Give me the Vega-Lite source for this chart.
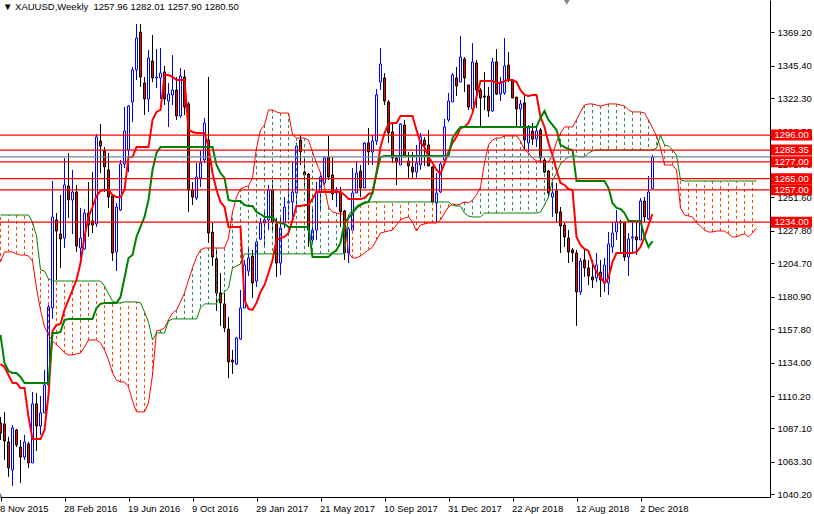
{"$schema":"https://vega.github.io/schema/vega-lite/v6.json","width":770,"height":497,"autosize":"none","padding":{"left":0,"top":0,"right":44,"bottom":17},"background":"white","view":{"stroke":null},
"title":{"text":"▼ XAUUSD,Weekly\u00a0\u00a01257.96 1282.01 1257.90 1280.50","anchor":"start","frame":"group","offset":-12,"dx":3,"font":"Liberation Sans","fontSize":9.5,"fontWeight":"normal","color":"#000"},
"config":{"font":"Liberation Sans","axis":{"labelOverlap":false,"labelFlush":false,"labelBound":false,"grid":false,"labelFontSize":9.5,"labelColor":"#000","domainColor":"#000","tickColor":"#000","tickSize":4,"title":null}},
"data":{"values":[
{"n":0,"date":"2015-11-08","open":1091,"high":1095.3,"low":1078.9,"close":1083.9,"tenkan":1133,"kijun":1153.7,"spanA":1205.7,"spanB":1239.1},
{"n":1,"date":"2015-11-15","open":1090.3,"high":1098.9,"low":1064.7,"close":1078.2,"tenkan":1130.9,"kijun":1133.7,"spanA":1212.8,"spanB":1239.1},
{"n":2,"date":"2015-11-22","open":1077.5,"high":1081.1,"low":1052.6,"close":1059,"tenkan":1125.2,"kijun":1128,"spanA":1212.8,"spanB":1239.1},
{"n":3,"date":"2015-11-29","open":1057.6,"high":1089.6,"low":1046.2,"close":1087.5,"tenkan":1119.5,"kijun":1126.6,"spanA":1212.8,"spanB":1239.1},
{"n":4,"date":"2015-12-06","open":1086,"high":1086.8,"low":1073.9,"close":1075.4,"tenkan":1119.5,"kijun":1126.6,"spanA":1211.4,"spanB":1239.1},
{"n":5,"date":"2015-12-13","open":1073.9,"high":1078.9,"low":1048.3,"close":1066.8,"tenkan":1116,"kijun":1123.8,"spanA":1210.6,"spanB":1239.1},
{"n":6,"date":"2015-12-20","open":1066.8,"high":1082.5,"low":1064.7,"close":1077.5,"tenkan":1116,"kijun":1119.5,"spanA":1210.6,"spanB":1239.1},
{"n":7,"date":"2015-12-27","open":1076.1,"high":1077.5,"low":1059,"close":1062.5,"tenkan":1095.3,"kijun":1119.5,"spanA":1209.9,"spanB":1239.1},
{"n":8,"date":"2016-01-03","open":1062.5,"high":1113.1,"low":1062.5,"close":1104.6,"tenkan":1079.6,"kijun":1119.5,"spanA":1206.4,"spanB":1234.1},
{"n":9,"date":"2016-01-10","open":1104.6,"high":1112.4,"low":1071.1,"close":1088.9,"tenkan":1079.6,"kijun":1119.5,"spanA":1187.1,"spanB":1224.2},
{"n":10,"date":"2016-01-17","open":1088.9,"high":1110.2,"low":1082.5,"close":1098.1,"tenkan":1079.6,"kijun":1119.5,"spanA":1171.5,"spanB":1200},
{"n":11,"date":"2016-01-24","open":1098.1,"high":1128.8,"low":1098.1,"close":1118.1,"tenkan":1086,"kijun":1119.5,"spanA":1159.4,"spanB":1199.2},
{"n":12,"date":"2016-01-31","open":1118.1,"high":1175,"low":1116.7,"close":1173.6,"tenkan":1111,"kijun":1119.5,"spanA":1153.7,"spanB":1193.6},
{"n":13,"date":"2016-02-07","open":1172.9,"high":1263.3,"low":1165.1,"close":1237.7,"tenkan":1156.5,"kijun":1155.1,"spanA":1149.4,"spanB":1192.1},
{"n":14,"date":"2016-02-14","open":1235.6,"high":1240.5,"low":1192.8,"close":1227.7,"tenkan":1160.8,"kijun":1155.1,"spanA":1146.6,"spanB":1192.1},
{"n":15,"date":"2016-02-21","open":1225.6,"high":1253.4,"low":1201.4,"close":1222,"tenkan":1161.5,"kijun":1155.8,"spanA":1144.4,"spanB":1192.1},
{"n":16,"date":"2016-02-28","open":1222.7,"high":1279.7,"low":1215.6,"close":1260.5,"tenkan":1171.5,"kijun":1164.4,"spanA":1140.9,"spanB":1192.1},
{"n":17,"date":"2016-03-06","open":1259.8,"high":1283.3,"low":1237,"close":1249.8,"tenkan":1178.6,"kijun":1165.1,"spanA":1139.4,"spanB":1192.1},
{"n":18,"date":"2016-03-13","open":1249.8,"high":1271.2,"low":1225.6,"close":1255.5,"tenkan":1185.7,"kijun":1165.1,"spanA":1139.4,"spanB":1192.1},
{"n":19,"date":"2016-03-20","open":1255.5,"high":1260.5,"low":1212.8,"close":1217,"tenkan":1192.8,"kijun":1165.1,"spanA":1140.2,"spanB":1192.1},
{"n":20,"date":"2016-03-27","open":1215.6,"high":1244.1,"low":1208.5,"close":1222.7,"tenkan":1204.9,"kijun":1165.1,"spanA":1140.9,"spanB":1192.1},
{"n":21,"date":"2016-04-03","open":1214.9,"high":1243.4,"low":1214.2,"close":1240.5,"tenkan":1223.5,"kijun":1165.1,"spanA":1145.1,"spanB":1192.1},
{"n":22,"date":"2016-04-10","open":1240.5,"high":1262.6,"low":1223.5,"close":1232,"tenkan":1237.7,"kijun":1165.1,"spanA":1150.1,"spanB":1192.1},
{"n":23,"date":"2016-04-17","open":1234.9,"high":1269.7,"low":1226.3,"close":1232,"tenkan":1244.8,"kijun":1165.1,"spanA":1150.1,"spanB":1192.1},
{"n":24,"date":"2016-04-24","open":1232.7,"high":1296.8,"low":1230.6,"close":1294.7,"tenkan":1252.6,"kijun":1172.9,"spanA":1150.1,"spanB":1192.1},
{"n":25,"date":"2016-05-01","open":1291.8,"high":1303.9,"low":1269,"close":1288.2,"tenkan":1256.2,"kijun":1175.8,"spanA":1148,"spanB":1192.1},
{"n":26,"date":"2016-05-08","open":1284.7,"high":1287.5,"low":1255.5,"close":1273.3,"tenkan":1256.9,"kijun":1176.5,"spanA":1143,"spanB":1188.6},
{"n":27,"date":"2016-05-15","open":1271.2,"high":1283.3,"low":1244.1,"close":1251.9,"tenkan":1256.9,"kijun":1176.5,"spanA":1135.9,"spanB":1182.9},
{"n":28,"date":"2016-05-22","open":1252.6,"high":1254.1,"low":1206.4,"close":1212.1,"tenkan":1253.4,"kijun":1176.5,"spanA":1126.6,"spanB":1177.9},
{"n":29,"date":"2016-05-29","open":1212.8,"high":1247.7,"low":1199.2,"close":1244.8,"tenkan":1251.9,"kijun":1176.5,"spanA":1121.6,"spanB":1176.5},
{"n":30,"date":"2016-06-05","open":1242.7,"high":1278.3,"low":1242,"close":1275.4,"tenkan":1251.9,"kijun":1180.7,"spanA":1120.2,"spanB":1176.5},
{"n":31,"date":"2016-06-12","open":1275.4,"high":1316,"low":1272.6,"close":1298.9,"tenkan":1256.9,"kijun":1194.3,"spanA":1120.2,"spanB":1177.2},
{"n":32,"date":"2016-06-19","open":1285.4,"high":1317.4,"low":1269.7,"close":1316.7,"tenkan":1280.4,"kijun":1208.5,"spanA":1116.7,"spanB":1177.2},
{"n":33,"date":"2016-06-26","open":1319.6,"high":1344.5,"low":1305.3,"close":1342.4,"tenkan":1280.4,"kijun":1210.6,"spanA":1106.7,"spanB":1177.2},
{"n":34,"date":"2016-07-03","open":1342.4,"high":1375.1,"low":1335.2,"close":1365.1,"tenkan":1287.5,"kijun":1223.5,"spanA":1098.9,"spanB":1177.2},
{"n":35,"date":"2016-07-10","open":1369.4,"high":1375.1,"low":1330.3,"close":1337.4,"tenkan":1287.5,"kijun":1230.6,"spanA":1098.9,"spanB":1176.5},
{"n":36,"date":"2016-07-17","open":1333.1,"high":1337.4,"low":1310.3,"close":1321.7,"tenkan":1287.5,"kijun":1237.7,"spanA":1098.9,"spanB":1170.1},
{"n":37,"date":"2016-07-24","open":1321.7,"high":1356.6,"low":1312.5,"close":1350.9,"tenkan":1287.5,"kijun":1249.8,"spanA":1105.3,"spanB":1162.9},
{"n":38,"date":"2016-07-31","open":1348.8,"high":1367.3,"low":1333.8,"close":1336.7,"tenkan":1306.8,"kijun":1271.2,"spanA":1125.2,"spanB":1150.1},
{"n":39,"date":"2016-08-07","open":1336.7,"high":1357.3,"low":1329.5,"close":1337.4,"tenkan":1312.5,"kijun":1283.3,"spanA":1156.5,"spanB":1155.1},
{"n":40,"date":"2016-08-14","open":1336.7,"high":1358,"low":1321.7,"close":1340.2,"tenkan":1313.9,"kijun":1287.5,"spanA":1157.2,"spanB":1155.1},
{"n":41,"date":"2016-08-21","open":1340.9,"high":1345.2,"low":1317.4,"close":1321.7,"tenkan":1338.8,"kijun":1287.5,"spanA":1158.7,"spanB":1155.1},
{"n":42,"date":"2016-08-28","open":1320.3,"high":1333.1,"low":1301.8,"close":1325.3,"tenkan":1338.8,"kijun":1287.5,"spanA":1164.4,"spanB":1163.6},
{"n":43,"date":"2016-09-04","open":1324.6,"high":1353,"low":1317.4,"close":1328.1,"tenkan":1337.4,"kijun":1287.5,"spanA":1169.3,"spanB":1165.1},
{"n":44,"date":"2016-09-11","open":1328.1,"high":1337.4,"low":1306.8,"close":1309.6,"tenkan":1335.2,"kijun":1287.5,"spanA":1171.5,"spanB":1165.1},
{"n":45,"date":"2016-09-18","open":1309.6,"high":1343.8,"low":1308.2,"close":1338.1,"tenkan":1335.2,"kijun":1287.5,"spanA":1177.2,"spanB":1165.1},
{"n":46,"date":"2016-09-25","open":1337.4,"high":1342.4,"low":1310.3,"close":1316,"tenkan":1335.2,"kijun":1287.5,"spanA":1183.6,"spanB":1165.1},
{"n":47,"date":"2016-10-02","open":1318.2,"high":1319.6,"low":1241.3,"close":1256.9,"tenkan":1299.6,"kijun":1287.5,"spanA":1192.8,"spanB":1165.1},
{"n":48,"date":"2016-10-09","open":1256.9,"high":1262.6,"low":1246.2,"close":1251.9,"tenkan":1298.2,"kijun":1287.5,"spanA":1201.4,"spanB":1165.1},
{"n":49,"date":"2016-10-16","open":1251.2,"high":1276.1,"low":1249.8,"close":1266.2,"tenkan":1297.5,"kijun":1287.5,"spanA":1209.2,"spanB":1165.1},
{"n":50,"date":"2016-10-23","open":1265.5,"high":1284.7,"low":1259,"close":1276.1,"tenkan":1297.5,"kijun":1287.5,"spanA":1214.2,"spanB":1172.9},
{"n":51,"date":"2016-10-30","open":1278.3,"high":1308.2,"low":1276.1,"close":1304.6,"tenkan":1297.5,"kijun":1287.5,"spanA":1215.6,"spanB":1175.8},
{"n":52,"date":"2016-11-06","open":1292.5,"high":1337.4,"low":1219.2,"close":1226.3,"tenkan":1287.5,"kijun":1287.5,"spanA":1215.6,"spanB":1175.8},
{"n":53,"date":"2016-11-13","open":1227,"high":1233.4,"low":1202.8,"close":1209.2,"tenkan":1269,"kijun":1287.5,"spanA":1215.6,"spanB":1175.8},
{"n":54,"date":"2016-11-20","open":1207.8,"high":1214.9,"low":1170.8,"close":1183.6,"tenkan":1256.9,"kijun":1274.7,"spanA":1215.6,"spanB":1175.8},
{"n":55,"date":"2016-11-27","open":1183.6,"high":1197.8,"low":1160.1,"close":1176.5,"tenkan":1248.4,"kijun":1269,"spanA":1215.6,"spanB":1181.4},
{"n":56,"date":"2016-12-04","open":1175.8,"high":1183.6,"low":1155.8,"close":1158.7,"tenkan":1244.8,"kijun":1265.5,"spanA":1215.6,"spanB":1184.3},
{"n":57,"date":"2016-12-11","open":1157.9,"high":1166.5,"low":1123,"close":1134.5,"tenkan":1230.6,"kijun":1249.8,"spanA":1222.7,"spanB":1187.1},
{"n":58,"date":"2016-12-18","open":1135.9,"high":1143,"low":1125.9,"close":1134.5,"tenkan":1230.6,"kijun":1249.1,"spanA":1241.3,"spanB":1201.4},
{"n":59,"date":"2016-12-25","open":1133,"high":1152.3,"low":1132.3,"close":1151.5,"tenkan":1230.6,"kijun":1249.1,"spanA":1251.9,"spanB":1202.8},
{"n":60,"date":"2017-01-01","open":1150.8,"high":1185.7,"low":1150.1,"close":1172.9,"tenkan":1230.6,"kijun":1249.1,"spanA":1257.6,"spanB":1204.2},
{"n":61,"date":"2017-01-08","open":1172.9,"high":1207.1,"low":1172.9,"close":1203.5,"tenkan":1178.6,"kijun":1246.2,"spanA":1259,"spanB":1211.4},
{"n":62,"date":"2017-01-15","open":1199.2,"high":1217,"low":1195.7,"close":1208.5,"tenkan":1172.2,"kijun":1245.5,"spanA":1259.8,"spanB":1211.4},
{"n":63,"date":"2017-01-22","open":1209.9,"high":1214.2,"low":1180,"close":1190.7,"tenkan":1171.5,"kijun":1245.5,"spanA":1265.5,"spanB":1211.4},
{"n":64,"date":"2017-01-29","open":1192.1,"high":1220.6,"low":1187.9,"close":1219.9,"tenkan":1176.5,"kijun":1241.3,"spanA":1286.8,"spanB":1211.4},
{"n":65,"date":"2017-02-05","open":1222,"high":1237,"low":1221.3,"close":1233.4,"tenkan":1184.3,"kijun":1239.8,"spanA":1299.6,"spanB":1211.4},
{"n":66,"date":"2017-02-12","open":1233.4,"high":1242.7,"low":1216.3,"close":1235.6,"tenkan":1189.3,"kijun":1237.7,"spanA":1303.2,"spanB":1211.4},
{"n":67,"date":"2017-02-19","open":1235.6,"high":1260.5,"low":1228.4,"close":1256.9,"tenkan":1197.8,"kijun":1237.7,"spanA":1313.9,"spanB":1211.4},
{"n":68,"date":"2017-02-26","open":1256.9,"high":1264,"low":1228.4,"close":1234.1,"tenkan":1207.1,"kijun":1237.7,"spanA":1313.9,"spanB":1211.4},
{"n":69,"date":"2017-03-05","open":1232.7,"high":1237,"low":1195,"close":1204.9,"tenkan":1221.3,"kijun":1234.1,"spanA":1312.5,"spanB":1211.4},
{"n":70,"date":"2017-03-12","open":1204.9,"high":1239.1,"low":1196.4,"close":1229.9,"tenkan":1222.7,"kijun":1233.4,"spanA":1311.7,"spanB":1211.4},
{"n":71,"date":"2017-03-19","open":1233.4,"high":1251.9,"low":1229.9,"close":1244.8,"tenkan":1223.5,"kijun":1232.7,"spanA":1311.7,"spanB":1211.4},
{"n":72,"date":"2017-03-26","open":1247.7,"high":1261.9,"low":1235.6,"close":1248.4,"tenkan":1226.3,"kijun":1230.6,"spanA":1311.7,"spanB":1211.4},
{"n":73,"date":"2017-04-02","open":1248.4,"high":1276.9,"low":1237.7,"close":1255.5,"tenkan":1235.6,"kijun":1230.6,"spanA":1296.1,"spanB":1211.4},
{"n":74,"date":"2017-04-09","open":1254.8,"high":1290.4,"low":1244.8,"close":1288.2,"tenkan":1245.5,"kijun":1230.6,"spanA":1293.9,"spanB":1211.4},
{"n":75,"date":"2017-04-16","open":1292.5,"high":1296.1,"low":1274.7,"close":1284,"tenkan":1245.5,"kijun":1230.6,"spanA":1293.9,"spanB":1211.4},
{"n":76,"date":"2017-04-23","open":1269.7,"high":1279.7,"low":1259,"close":1267.6,"tenkan":1246.2,"kijun":1230.6,"spanA":1293.9,"spanB":1211.4},
{"n":77,"date":"2017-04-30","open":1268.3,"high":1269,"low":1216.3,"close":1228.4,"tenkan":1246.2,"kijun":1230.6,"spanA":1292.5,"spanB":1211.4},
{"n":78,"date":"2017-05-07","open":1221.3,"high":1244.8,"low":1217.8,"close":1228.4,"tenkan":1250.5,"kijun":1209.2,"spanA":1284,"spanB":1211.4},
{"n":79,"date":"2017-05-14","open":1228.4,"high":1262.6,"low":1221.3,"close":1255.5,"tenkan":1255.5,"kijun":1209.2,"spanA":1276.1,"spanB":1211.4},
{"n":80,"date":"2017-05-21","open":1255.5,"high":1269.7,"low":1242.7,"close":1266.2,"tenkan":1255.5,"kijun":1209.2,"spanA":1269,"spanB":1211.4},
{"n":81,"date":"2017-05-28","open":1261.9,"high":1281.1,"low":1260.5,"close":1279.7,"tenkan":1255.5,"kijun":1209.2,"spanA":1259,"spanB":1211.4},
{"n":82,"date":"2017-06-04","open":1280.4,"high":1295.4,"low":1264,"close":1266.2,"tenkan":1255.5,"kijun":1209.2,"spanA":1244.8,"spanB":1211.4},
{"n":83,"date":"2017-06-11","open":1267.6,"high":1280.4,"low":1249.8,"close":1254.1,"tenkan":1255.5,"kijun":1212.1,"spanA":1241.3,"spanB":1211.4},
{"n":84,"date":"2017-06-18","open":1254.8,"high":1259,"low":1244.8,"close":1256.9,"tenkan":1255.5,"kijun":1214.2,"spanA":1240.5,"spanB":1211.4},
{"n":85,"date":"2017-06-25","open":1255.5,"high":1259,"low":1230.6,"close":1241.3,"tenkan":1255.5,"kijun":1219.2,"spanA":1239.8,"spanB":1211.4},
{"n":86,"date":"2017-07-02","open":1242,"high":1242.7,"low":1207.1,"close":1212.1,"tenkan":1253.4,"kijun":1233.4,"spanA":1239.8,"spanB":1211.4},
{"n":87,"date":"2017-07-09","open":1212.1,"high":1230.6,"low":1204.9,"close":1229.2,"tenkan":1250.5,"kijun":1237,"spanA":1212.1,"spanB":1239.1},
{"n":88,"date":"2017-07-16","open":1228.4,"high":1272.6,"low":1228.4,"close":1254.8,"tenkan":1250.5,"kijun":1240.5,"spanA":1208.5,"spanB":1242.7},
{"n":89,"date":"2017-07-23","open":1254.8,"high":1276.9,"low":1254.8,"close":1269,"tenkan":1250.5,"kijun":1244.1,"spanA":1208.5,"spanB":1245.5},
{"n":90,"date":"2017-07-30","open":1270.4,"high":1274.7,"low":1251.9,"close":1258.3,"tenkan":1250.5,"kijun":1246.2,"spanA":1209.9,"spanB":1247},
{"n":91,"date":"2017-08-06","open":1258.3,"high":1291.1,"low":1258.3,"close":1290.4,"tenkan":1251.2,"kijun":1247.7,"spanA":1212.1,"spanB":1248.4},
{"n":92,"date":"2017-08-13","open":1290.4,"high":1301.1,"low":1274.7,"close":1284,"tenkan":1254.1,"kijun":1248.4,"spanA":1214.2,"spanB":1248.4},
{"n":93,"date":"2017-08-20","open":1284,"high":1296.1,"low":1274.7,"close":1291.8,"tenkan":1254.8,"kijun":1254.8,"spanA":1216.3,"spanB":1248.4},
{"n":94,"date":"2017-08-27","open":1291.8,"high":1328.8,"low":1289,"close":1324.6,"tenkan":1269,"kijun":1269,"spanA":1221.3,"spanB":1248.4},
{"n":95,"date":"2017-09-03","open":1333.8,"high":1358,"low":1328.1,"close":1346.6,"tenkan":1287.5,"kijun":1280.4,"spanA":1226.3,"spanB":1248.4},
{"n":96,"date":"2017-09-10","open":1336.7,"high":1340.2,"low":1317.4,"close":1320.3,"tenkan":1297.5,"kijun":1281.1,"spanA":1227,"spanB":1248.4},
{"n":97,"date":"2017-09-17","open":1319.6,"high":1321,"low":1290.4,"close":1297.5,"tenkan":1303.9,"kijun":1281.1,"spanA":1227.7,"spanB":1248.4},
{"n":98,"date":"2017-09-24","open":1298.2,"high":1304.6,"low":1276.1,"close":1279.7,"tenkan":1304.6,"kijun":1281.1,"spanA":1228.4,"spanB":1248.4},
{"n":99,"date":"2017-10-01","open":1279.7,"high":1281.8,"low":1260.5,"close":1276.9,"tenkan":1304.6,"kijun":1281.1,"spanA":1232,"spanB":1248.4},
{"n":100,"date":"2017-10-08","open":1274.7,"high":1304.6,"low":1274.7,"close":1303.9,"tenkan":1309.6,"kijun":1281.1,"spanA":1235.6,"spanB":1248.4},
{"n":101,"date":"2017-10-15","open":1303.2,"high":1306.8,"low":1280.4,"close":1281.8,"tenkan":1309.6,"kijun":1281.1,"spanA":1237,"spanB":1248.4},
{"n":102,"date":"2017-10-22","open":1277.6,"high":1284,"low":1265.5,"close":1274,"tenkan":1309.6,"kijun":1281.1,"spanA":1237.7,"spanB":1248.4},
{"n":103,"date":"2017-10-29","open":1273.3,"high":1284,"low":1265.5,"close":1269.7,"tenkan":1309.6,"kijun":1281.1,"spanA":1234.1,"spanB":1248.4},
{"n":104,"date":"2017-11-05","open":1269.7,"high":1289,"low":1265.5,"close":1276.1,"tenkan":1299.6,"kijun":1281.1,"spanA":1227.7,"spanB":1248.4},
{"n":105,"date":"2017-11-12","open":1274.7,"high":1297.5,"low":1271.2,"close":1294.7,"tenkan":1290.4,"kijun":1281.1,"spanA":1232,"spanB":1248.4},
{"n":106,"date":"2017-11-19","open":1292.5,"high":1294.7,"low":1274,"close":1289,"tenkan":1287.5,"kijun":1281.1,"spanA":1232.7,"spanB":1248.4},
{"n":107,"date":"2017-11-26","open":1289,"high":1299.6,"low":1274,"close":1274,"tenkan":1280.4,"kijun":1281.1,"spanA":1233.4,"spanB":1248.4},
{"n":108,"date":"2017-12-03","open":1273.3,"high":1274,"low":1246.2,"close":1248.4,"tenkan":1276.1,"kijun":1281.1,"spanA":1233.4,"spanB":1248.4},
{"n":109,"date":"2017-12-10","open":1247.7,"high":1269,"low":1234.1,"close":1254.8,"tenkan":1271.2,"kijun":1281.1,"spanA":1233.4,"spanB":1248.4},
{"n":110,"date":"2017-12-17","open":1255.5,"high":1276.9,"low":1254.8,"close":1275.4,"tenkan":1268.3,"kijun":1281.1,"spanA":1235.6,"spanB":1248.4},
{"n":111,"date":"2017-12-24","open":1278.3,"high":1307.5,"low":1277.6,"close":1301.8,"tenkan":1276.1,"kijun":1281.1,"spanA":1240.5,"spanB":1248.4},
{"n":112,"date":"2017-12-31","open":1306.8,"high":1326,"low":1305.3,"close":1320.3,"tenkan":1284,"kijun":1281.1,"spanA":1244.8,"spanB":1248.4},
{"n":113,"date":"2018-01-07","open":1319.6,"high":1340.2,"low":1319.6,"close":1338.8,"tenkan":1290.4,"kijun":1293.9,"spanA":1247,"spanB":1246.2},
{"n":114,"date":"2018-01-14","open":1336.7,"high":1344.5,"low":1323.8,"close":1331,"tenkan":1294.7,"kijun":1298.2,"spanA":1246.2,"spanB":1245.5},
{"n":115,"date":"2018-01-21","open":1333.8,"high":1366.6,"low":1333.8,"close":1351.6,"tenkan":1301.1,"kijun":1301.8,"spanA":1247,"spanB":1245.5},
{"n":116,"date":"2018-01-28","open":1350.2,"high":1351.6,"low":1326.7,"close":1336.7,"tenkan":1301.8,"kijun":1301.8,"spanA":1248.4,"spanB":1240.5},
{"n":117,"date":"2018-02-04","open":1331.7,"high":1331.7,"low":1313.9,"close":1316,"tenkan":1304.6,"kijun":1301.8,"spanA":1247.7,"spanB":1238.4},
{"n":118,"date":"2018-02-11","open":1314.6,"high":1361.6,"low":1313.9,"close":1348.1,"tenkan":1311.7,"kijun":1301.8,"spanA":1249.8,"spanB":1237.7},
{"n":119,"date":"2018-02-18","open":1347.3,"high":1349.5,"low":1315.3,"close":1328.1,"tenkan":1323.1,"kijun":1301.8,"spanA":1253.4,"spanB":1237.7},
{"n":120,"date":"2018-02-25","open":1328.1,"high":1329.5,"low":1301.8,"close":1322.4,"tenkan":1334.5,"kijun":1301.8,"spanA":1259,"spanB":1237.7},
{"n":121,"date":"2018-03-04","open":1323.8,"high":1340.9,"low":1313.9,"close":1323.1,"tenkan":1334.5,"kijun":1301.8,"spanA":1276.1,"spanB":1240.5},
{"n":122,"date":"2018-03-11","open":1323.8,"high":1330.3,"low":1308.9,"close":1313.2,"tenkan":1334.5,"kijun":1301.8,"spanA":1289,"spanB":1240.5},
{"n":123,"date":"2018-03-18","open":1313.2,"high":1350.9,"low":1312.5,"close":1348.1,"tenkan":1334.5,"kijun":1301.8,"spanA":1292.5,"spanB":1240.5},
{"n":124,"date":"2018-03-25","open":1348.1,"high":1357.3,"low":1324.6,"close":1325.3,"tenkan":1333.1,"kijun":1301.8,"spanA":1293.9,"spanB":1240.5},
{"n":125,"date":"2018-04-01","open":1325.3,"high":1337.4,"low":1320.3,"close":1333.8,"tenkan":1333.1,"kijun":1301.8,"spanA":1293.9,"spanB":1240.5},
{"n":126,"date":"2018-04-08","open":1326,"high":1365.1,"low":1324.6,"close":1345.2,"tenkan":1334.5,"kijun":1301.8,"spanA":1295.4,"spanB":1240.5},
{"n":127,"date":"2018-04-15","open":1345.9,"high":1355.2,"low":1333.8,"close":1335.2,"tenkan":1335.2,"kijun":1301.8,"spanA":1295.4,"spanB":1240.5},
{"n":128,"date":"2018-04-22","open":1335.2,"high":1335.2,"low":1322.4,"close":1322.4,"tenkan":1335.2,"kijun":1301.8,"spanA":1295.4,"spanB":1240.5},
{"n":129,"date":"2018-04-29","open":1323.1,"high":1323.1,"low":1301.8,"close":1314.6,"tenkan":1333.8,"kijun":1301.8,"spanA":1295.4,"spanB":1240.5},
{"n":130,"date":"2018-05-06","open":1314.6,"high":1321,"low":1301.8,"close":1318.2,"tenkan":1328.1,"kijun":1301.8,"spanA":1291.8,"spanB":1240.5},
{"n":131,"date":"2018-05-13","open":1318.9,"high":1324.6,"low":1285.4,"close":1292.5,"tenkan":1324.6,"kijun":1301.8,"spanA":1285.4,"spanB":1240.5},
{"n":132,"date":"2018-05-20","open":1290.4,"high":1303.2,"low":1284,"close":1301.1,"tenkan":1323.8,"kijun":1301.8,"spanA":1283.3,"spanB":1240.5},
{"n":133,"date":"2018-05-27","open":1298.9,"high":1304.6,"low":1289,"close":1293.2,"tenkan":1324.6,"kijun":1301.8,"spanA":1279.7,"spanB":1240.5},
{"n":134,"date":"2018-06-03","open":1293.2,"high":1301.8,"low":1287.5,"close":1298.9,"tenkan":1324.6,"kijun":1301.8,"spanA":1277.6,"spanB":1240.5},
{"n":135,"date":"2018-06-10","open":1299.6,"high":1301.1,"low":1276.1,"close":1279.7,"tenkan":1308.9,"kijun":1308.2,"spanA":1277.6,"spanB":1241.3},
{"n":136,"date":"2018-06-17","open":1278.3,"high":1279.7,"low":1269,"close":1269.7,"tenkan":1301.8,"kijun":1313.2,"spanA":1276.9,"spanB":1246.2},
{"n":137,"date":"2018-06-24","open":1270.4,"high":1271.2,"low":1251.9,"close":1254.8,"tenkan":1290.4,"kijun":1306.8,"spanA":1276.9,"spanB":1251.9},
{"n":138,"date":"2018-07-01","open":1251.9,"high":1262.6,"low":1237.7,"close":1254.8,"tenkan":1281.8,"kijun":1303.2,"spanA":1281.8,"spanB":1264},
{"n":139,"date":"2018-07-08","open":1256.2,"high":1261.9,"low":1234.1,"close":1240.5,"tenkan":1271.2,"kijun":1299.6,"spanA":1291.1,"spanB":1269},
{"n":140,"date":"2018-07-15","open":1241.3,"high":1244.8,"low":1212.1,"close":1231.3,"tenkan":1261.9,"kijun":1289,"spanA":1297.5,"spanB":1275.4},
{"n":141,"date":"2018-07-22","open":1232,"high":1233.4,"low":1216.3,"close":1223.5,"tenkan":1260.5,"kijun":1287.5,"spanA":1301.8,"spanB":1278.3},
{"n":142,"date":"2018-07-29","open":1222.7,"high":1228.4,"low":1204.9,"close":1212.8,"tenkan":1257.6,"kijun":1286.1,"spanA":1301.8,"spanB":1280.4},
{"n":143,"date":"2018-08-05","open":1214.2,"high":1215.6,"low":1205.7,"close":1212.1,"tenkan":1256.9,"kijun":1285.4,"spanA":1301.8,"spanB":1281.1},
{"n":144,"date":"2018-08-12","open":1212.1,"high":1214.2,"low":1160.1,"close":1184.3,"tenkan":1223.5,"kijun":1263.3,"spanA":1306.8,"spanB":1281.1},
{"n":145,"date":"2018-08-19","open":1184.3,"high":1208.5,"low":1182.2,"close":1206.4,"tenkan":1217.8,"kijun":1263.3,"spanA":1312.5,"spanB":1280.4},
{"n":146,"date":"2018-08-26","open":1207.1,"high":1214.2,"low":1195,"close":1201.4,"tenkan":1214.9,"kijun":1263.3,"spanA":1317.4,"spanB":1280.4},
{"n":147,"date":"2018-09-02","open":1201.4,"high":1207.1,"low":1189.3,"close":1195.7,"tenkan":1213.5,"kijun":1263.3,"spanA":1318.2,"spanB":1283.3},
{"n":148,"date":"2018-09-09","open":1195,"high":1207.1,"low":1187.1,"close":1192.8,"tenkan":1204.9,"kijun":1263.3,"spanA":1318.2,"spanB":1284.7},
{"n":149,"date":"2018-09-16","open":1194.3,"high":1212.1,"low":1191.4,"close":1203.5,"tenkan":1198.5,"kijun":1263.3,"spanA":1317.4,"spanB":1285.4},
{"n":150,"date":"2018-09-23","open":1198.5,"high":1207.1,"low":1180.7,"close":1192.8,"tenkan":1195,"kijun":1263.3,"spanA":1316.7,"spanB":1285.4},
{"n":151,"date":"2018-09-30","open":1190.7,"high":1208.5,"low":1184.3,"close":1203.5,"tenkan":1190.7,"kijun":1263.3,"spanA":1317.4,"spanB":1285.4},
{"n":152,"date":"2018-10-07","open":1190.7,"high":1227,"low":1182.2,"close":1218.5,"tenkan":1194.3,"kijun":1258.3,"spanA":1318.2,"spanB":1285.4},
{"n":153,"date":"2018-10-14","open":1216.3,"high":1234.1,"low":1212.1,"close":1226.3,"tenkan":1205.7,"kijun":1247.7,"spanA":1318.2,"spanB":1285.4},
{"n":154,"date":"2018-10-21","open":1227,"high":1242.7,"low":1221.3,"close":1234.1,"tenkan":1212.1,"kijun":1244.1,"spanA":1318.2,"spanB":1285.4},
{"n":155,"date":"2018-10-28","open":1234.1,"high":1235.6,"low":1212.1,"close":1233.4,"tenkan":1212.1,"kijun":1243.4,"spanA":1317.4,"spanB":1285.4},
{"n":156,"date":"2018-11-04","open":1234.1,"high":1234.1,"low":1206.4,"close":1209.2,"tenkan":1212.1,"kijun":1240.5,"spanA":1316.7,"spanB":1285.4},
{"n":157,"date":"2018-11-11","open":1209.2,"high":1226.3,"low":1195.7,"close":1222,"tenkan":1212.1,"kijun":1234.9,"spanA":1313.9,"spanB":1285.4},
{"n":158,"date":"2018-11-18","open":1222.7,"high":1234.1,"low":1212.8,"close":1223.5,"tenkan":1212.1,"kijun":1234.9,"spanA":1312.5,"spanB":1285.4},
{"n":159,"date":"2018-11-25","open":1223.5,"high":1234.1,"low":1210.6,"close":1221.3,"tenkan":1212.8,"kijun":1234.9,"spanA":1312.5,"spanB":1285.4},
{"n":160,"date":"2018-12-02","open":1221.3,"high":1251.2,"low":1221.3,"close":1249.1,"tenkan":1216.3,"kijun":1234.9,"spanA":1312.5,"spanB":1285.4},
{"n":161,"date":"2018-12-09","open":1249.1,"high":1251.9,"low":1234.1,"close":1237.7,"tenkan":1223.5,"kijun":1223.5,"spanA":1311.7,"spanB":1285.4},
{"n":162,"date":"2018-12-16","open":1236.3,"high":1266.9,"low":1235.6,"close":1255.5,"tenkan":1232,"kijun":1216.3,"spanA":1306.8,"spanB":1285.4},
{"n":163,"date":"2018-12-23","open":1257.96,"high":1282.01,"low":1257.9,"close":1280.5,"tenkan":1239.8,"kijun":1220.6,"spanA":1301.1,"spanB":1285.4},
{"n":164,"date":"2018-12-30","spanA":1295.4,"spanB":1286.8},
{"n":165,"date":"2019-01-06","spanA":1286.8,"spanB":1296.1},
{"n":166,"date":"2019-01-13","spanA":1274.7,"spanB":1289},
{"n":167,"date":"2019-01-20","spanA":1274.7,"spanB":1288.2},
{"n":168,"date":"2019-01-27","spanA":1274.7,"spanB":1285.4},
{"n":169,"date":"2019-02-03","spanA":1271.2,"spanB":1281.8},
{"n":170,"date":"2019-02-10","spanA":1244.1,"spanB":1264},
{"n":171,"date":"2019-02-17","spanA":1239.1,"spanB":1263.3},
{"n":172,"date":"2019-02-24","spanA":1238.4,"spanB":1263.3},
{"n":173,"date":"2019-03-03","spanA":1237.7,"spanB":1263.3},
{"n":174,"date":"2019-03-10","spanA":1233.4,"spanB":1263.3},
{"n":175,"date":"2019-03-17","spanA":1231.3,"spanB":1263.3},
{"n":176,"date":"2019-03-24","spanA":1228.4,"spanB":1263.3},
{"n":177,"date":"2019-03-31","spanA":1227,"spanB":1263.3},
{"n":178,"date":"2019-04-07","spanA":1227,"spanB":1263.3},
{"n":179,"date":"2019-04-14","spanA":1227.7,"spanB":1263.3},
{"n":180,"date":"2019-04-21","spanA":1227.7,"spanB":1263.3},
{"n":181,"date":"2019-04-28","spanA":1227.7,"spanB":1263.3},
{"n":182,"date":"2019-05-05","spanA":1225.6,"spanB":1263.3},
{"n":183,"date":"2019-05-12","spanA":1223.5,"spanB":1263.3},
{"n":184,"date":"2019-05-19","spanA":1223.5,"spanB":1263.3},
{"n":185,"date":"2019-05-26","spanA":1224.9,"spanB":1263.3},
{"n":186,"date":"2019-06-02","spanA":1225.6,"spanB":1263.3},
{"n":187,"date":"2019-06-09","spanA":1223.5,"spanB":1263.3},
{"n":188,"date":"2019-06-16","spanA":1226.3,"spanB":1263.3},
{"n":189,"date":"2019-06-23","spanA":1229.9,"spanB":1263.3}
]},
"layer":[
{"encoding":{
"x":{"field":"date","type":"temporal","scale":{"type":"utc","domain":[1446865200000,1563289200000],"nice":false,"padding":0},
"axis":{"orient":"bottom","values":[1446940800000,1456617600000,1466294400000,1475971200000,1485648000000,1495324800000,1505001600000,1514678400000,1524355200000,1534032000000,1543708800000],"format":"%-d %b %Y","labelAlign":"left","labelBaseline":"top","labelPadding":2,"labelOffset":-1}}},
"layer":[
{"transform":[{"filter":"isValid(datum.open)"}],"mark":{"type":"rule","strokeWidth":1},
"encoding":{"y":{"field":"low","type":"quantitative","scale":{"domain":[1038.3,1392.2],"nice":false,"zero":false},
"axis":{"orient":"right","tickCount":20,"values":[1369.2,1345.4,1322.3,1298.5,1275.4,1251.6,1227.8,1204.7,1180.9,1157.8,1134,1110.2,1087.1,1063.3,1040.2],"format":".2f","labelPadding":3}},
"y2":{"field":"high"},
"stroke":{"condition":{"test":"datum.close>=datum.open","value":"#0000ff"},"value":"#000000"}}},
{"transform":[{"filter":"isValid(datum.open)"}],"mark":{"type":"bar","size":2,"strokeWidth":1},
"encoding":{"y":{"field":"open","type":"quantitative"},"y2":{"field":"close"},
"fill":{"condition":{"test":"datum.close>=datum.open","value":"#ffffff"},"value":"#ff0000"},
"stroke":{"condition":{"test":"datum.close>=datum.open","value":"#0000ff"},"value":"#000000"}}},
{"transform":[{"filter":"datum.n%2==0"}],"mark":{"type":"rule","strokeWidth":1,"strokeDash":[3,3]},
"encoding":{"y":{"field":"spanA","type":"quantitative"},"y2":{"field":"spanB"},
"stroke":{"condition":{"test":"datum.spanA>=datum.spanB","value":"#2e8b57"},"value":"#ff4500"}}},
{"mark":{"type":"line","stroke":"#ff0000","strokeWidth":1},"encoding":{"y":{"field":"spanA","type":"quantitative"}}},
{"mark":{"type":"line","stroke":"#008000","strokeWidth":1},"encoding":{"y":{"field":"spanB","type":"quantitative"}}},
{"transform":[{"filter":"isValid(datum.tenkan)"}],"mark":{"type":"line","stroke":"#ff0000","strokeWidth":2},"encoding":{"y":{"field":"tenkan","type":"quantitative"}}},
{"transform":[{"filter":"isValid(datum.kijun)"}],"mark":{"type":"line","stroke":"#008000","strokeWidth":2},"encoding":{"y":{"field":"kijun","type":"quantitative"}}}
]},
{"data":{"values":[{"price":1280.5}]},"mark":{"type":"rule","stroke":"#778899","strokeWidth":1.2},
"encoding":{"y":{"field":"price","type":"quantitative"}}},
{"data":{"values":[{"price":1296,"label":"1296.00","date":"2019-07-14"},{"price":1285.35,"label":"1285.35","date":"2019-07-14"},{"price":1277,"label":"1277.00","date":"2019-07-14"},{"price":1265,"label":"1265.00","date":"2019-07-14"},{"price":1257,"label":"1257.00","date":"2019-07-14"},{"price":1234,"label":"1234.00","date":"2019-07-14"}]},
"layer":[
{"mark":{"type":"rule","stroke":"#ff0000","strokeWidth":1.2},"encoding":{"y":{"field":"price","type":"quantitative"}}},
{"mark":{"type":"rule","stroke":"#ff0000","strokeWidth":11,"xOffset":2.5,"x2Offset":43.5},"encoding":{"x":{"field":"date","type":"temporal"},"x2":{"field":"date"},"y":{"field":"price","type":"quantitative"}}},
{"mark":{"type":"text","align":"left","baseline":"middle","color":"#ffffff","fontSize":9.5,"font":"Liberation Sans","xOffset":6},"encoding":{"x":{"field":"date","type":"temporal"},"y":{"field":"price","type":"quantitative"},"text":{"field":"label"}}}
]},
{"data":{"values":[{"date":"2018-07-26","price":1390.8}]},"mark":{"type":"point","shape":"triangle-down","filled":true,"color":"#778899","size":45,"opacity":1},
"encoding":{"x":{"field":"date","type":"temporal"},"y":{"field":"price","type":"quantitative"}}},
{"data":{"values":[{"date":"2015-11-07","price":1039.9}]},"mark":{"type":"point","shape":"triangle-up","filled":true,"color":"#778899","size":30,"opacity":1},
"encoding":{"x":{"field":"date","type":"temporal"},"y":{"field":"price","type":"quantitative"}}}
]}
